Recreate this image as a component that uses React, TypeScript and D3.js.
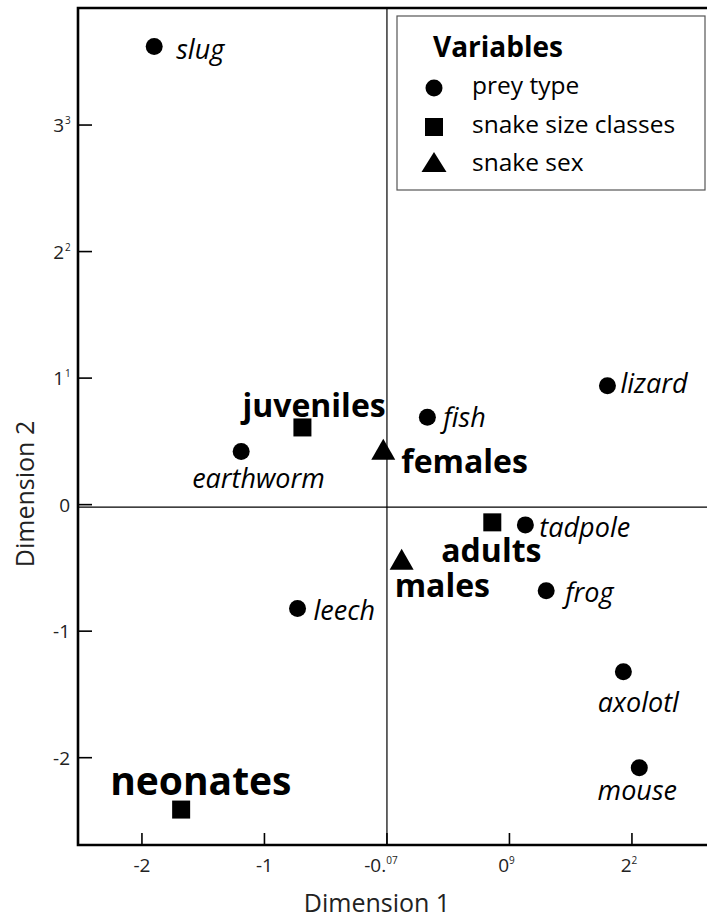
import React from "react";
import * as d3 from "d3";

// ---- data ----
const preyNames = ["slug", "earthworm", "leech", "fish", "lizard", "tadpole", "frog", "axolotl", "mouse"];
const preyX = [-1.9, -1.19, -0.73, 0.33, 1.8, 1.13, 1.3, 1.93, 2.06];
const preyY = [3.62, 0.42, -0.82, 0.69, 0.94, -0.16, -0.68, -1.32, -2.08];

const sizeNames = ["juveniles", "adults", "neonates"];
const sizeX = [-0.69, 0.86, -1.68];
const sizeY = [0.61, -0.14, -2.41];

const sexNames = ["females", "males"];
const sexX = [-0.03, 0.12];
const sexY = [0.43, -0.44];

const xTicks = [-2, -1, 0, 1, 2];
const xTickMain = ["-2", "-1", "-0.", "0", "2"];
const xTickSup = ["", "", "07", "9", "2"];
const yTicks = [3, 2, 1, 0, -1, -2];
const yTickMain = ["3", "2", "1", "0", "-1", "-2"];
const yTickSup = ["3", "2", "1", "", "", ""];

const legendLabels = ["prey type", "snake size classes", "snake sex"];

const refX = 0;
const refY = -0.02;

// ---- layout ----
const W = 707;
const H = 918;
const L = 78, T = 8, B = 845;
const FONT = "'Open Sans', 'Noto Sans', sans-serif";

const labelOffsets: Record<string, [number, number, string, number?]> = {
  slug: [22, 12, "start"],
  earthworm: [-49, 37, "start"],
  leech: [16, 12, "start"],
  fish: [16, 10, "start"],
  lizard: [13, 7, "start"],
  tadpole: [14, 12, "start"],
  frog: [19, 11, "start"],
  axolotl: [15, 40, "middle"],
  mouse: [-2, 32, "middle"],
  juveniles: [-60, -10, "start"],
  adults: [-51, 40, "start"],
  neonates: [-71, -15, "start", 39],
  females: [18, 23, "start"],
  males: [-7, 37, "start"],
};

const triPath = (cx: number, cy: number, w = 24, h = 21) =>
  `M${cx},${cy - h * 0.55}L${cx + w / 2},${cy + h * 0.45}L${cx - w / 2},${cy + h * 0.45}Z`;

export default function App() {
  const x = d3.scaleLinear().domain([-2.522, 2.65]).range([L, L + 5.172 * 122.5]);
  const y = d3.scaleLinear().domain([-2.69, 3.925]).range([B, T]);

  const labelFor = (name: string, px: number, py: number, bold: boolean) => {
    const [dx, dy, anchor, fs] = labelOffsets[name];
    return (
      <text
        x={px + dx}
        y={py + dy}
        textAnchor={anchor as any}
        fontFamily={FONT}
        fontSize={fs ?? (bold ? 32 : 27)}
        fontStyle={bold ? "normal" : "italic"}
        fontWeight={bold ? 700 : 400}
        fill="#000"
      >
        {name}
      </text>
    );
  };

  return (
    <svg
      width={W}
      height={H}
      style={{ position: "absolute", left: 0, top: 0, background: "#fff" }}
    >
      <rect width={W} height={H} fill="#fff" />
      {/* reference lines */}
      <line x1={x(refX)} x2={x(refX)} y1={T} y2={B} stroke="#000" strokeWidth={1.2} />
      <line x1={L} x2={W} y1={y(refY)} y2={y(refY)} stroke="#000" strokeWidth={1.2} />

      {/* frame */}
      <path d={`M${W + 5},${T}H${L}V${B}H${W + 5}`} fill="none" stroke="#000" strokeWidth={2.6} />

      {/* y ticks */}
      {yTicks.map((t, i) => (
        <g key={"y" + i}>
          <line x1={L} x2={L + 14} y1={y(t)} y2={y(t)} stroke="#000" strokeWidth={1.6} />
          <text
            x={i < 3 ? 64 : 70}
            y={y(t) + 7}
            textAnchor="end"
            fontFamily={FONT}
            fontSize={19}
            fill="#222"
          >
            {yTickMain[i]}
          </text>
          {yTickSup[i] && (
            <text x={65} y={y(t) - 1} fontFamily={FONT} fontSize={10} fill="#222">
              {yTickSup[i]}
            </text>
          )}
        </g>
      ))}

      {/* x ticks */}
      {xTicks.map((t, i) => (
        <g key={"x" + i}>
          <line x1={x(t)} x2={x(t)} y1={B} y2={B - 12} stroke="#000" strokeWidth={1.6} />
          <text
            x={x(t) + (xTickSup[i] ? -(xTickSup[i].length * 3) : 0)}
            y={872}
            textAnchor="middle"
            fontFamily={FONT}
            fontSize={19}
            fill="#222"
          >
            {xTickMain[i]}
            {xTickSup[i] && (
              <tspan fontSize={10} dy={-8}>
                {xTickSup[i]}
              </tspan>
            )}
          </text>
        </g>
      ))}

      {/* axis titles */}
      <text x={377} y={912} textAnchor="middle" fontFamily={FONT} fontSize={25} fill="#222">
        Dimension 1
      </text>
      <text
        transform={`translate(34,494) rotate(-90)`}
        textAnchor="middle"
        fontFamily={FONT}
        fontSize={25}
        fill="#222"
      >
        Dimension 2
      </text>

      {/* prey circles */}
      {preyNames.map((n, i) => (
        <g key={n}>
          <circle cx={x(preyX[i])} cy={y(preyY[i])} r={8.5} fill="#000" />
          {labelFor(n, x(preyX[i]), y(preyY[i]), false)}
        </g>
      ))}

      {/* size squares */}
      {sizeNames.map((n, i) => (
        <g key={n}>
          <rect x={x(sizeX[i]) - 9} y={y(sizeY[i]) - 9} width={18} height={18} fill="#000" />
          {labelFor(n, x(sizeX[i]), y(sizeY[i]), true)}
        </g>
      ))}

      {/* sex triangles */}
      {sexNames.map((n, i) => (
        <g key={n}>
          <path d={triPath(x(sexX[i]), y(sexY[i]))} fill="#000" />
          {labelFor(n, x(sexX[i]), y(sexY[i]), true)}
        </g>
      ))}

      {/* legend */}
      <rect x={397} y={16} width={308} height={174} fill="#fff" stroke="#555" strokeWidth={1.2} />
      <text x={433} y={57} fontFamily={FONT} fontSize={28} fontWeight={700} fill="#000">
        Variables
      </text>
      <circle cx={434} cy={88} r={8.5} fill="#000" />
      <rect x={425} y={118} width={18} height={18} fill="#000" />
      <path d={triPath(434, 163, 25, 20)} fill="#000" />
      {legendLabels.map((s, i) => (
        <text key={s} x={472} y={94 + i * 38.5} fontFamily={FONT} fontSize={24.5} fill="#000">
          {s}
        </text>
      ))}
    </svg>
  );
}
